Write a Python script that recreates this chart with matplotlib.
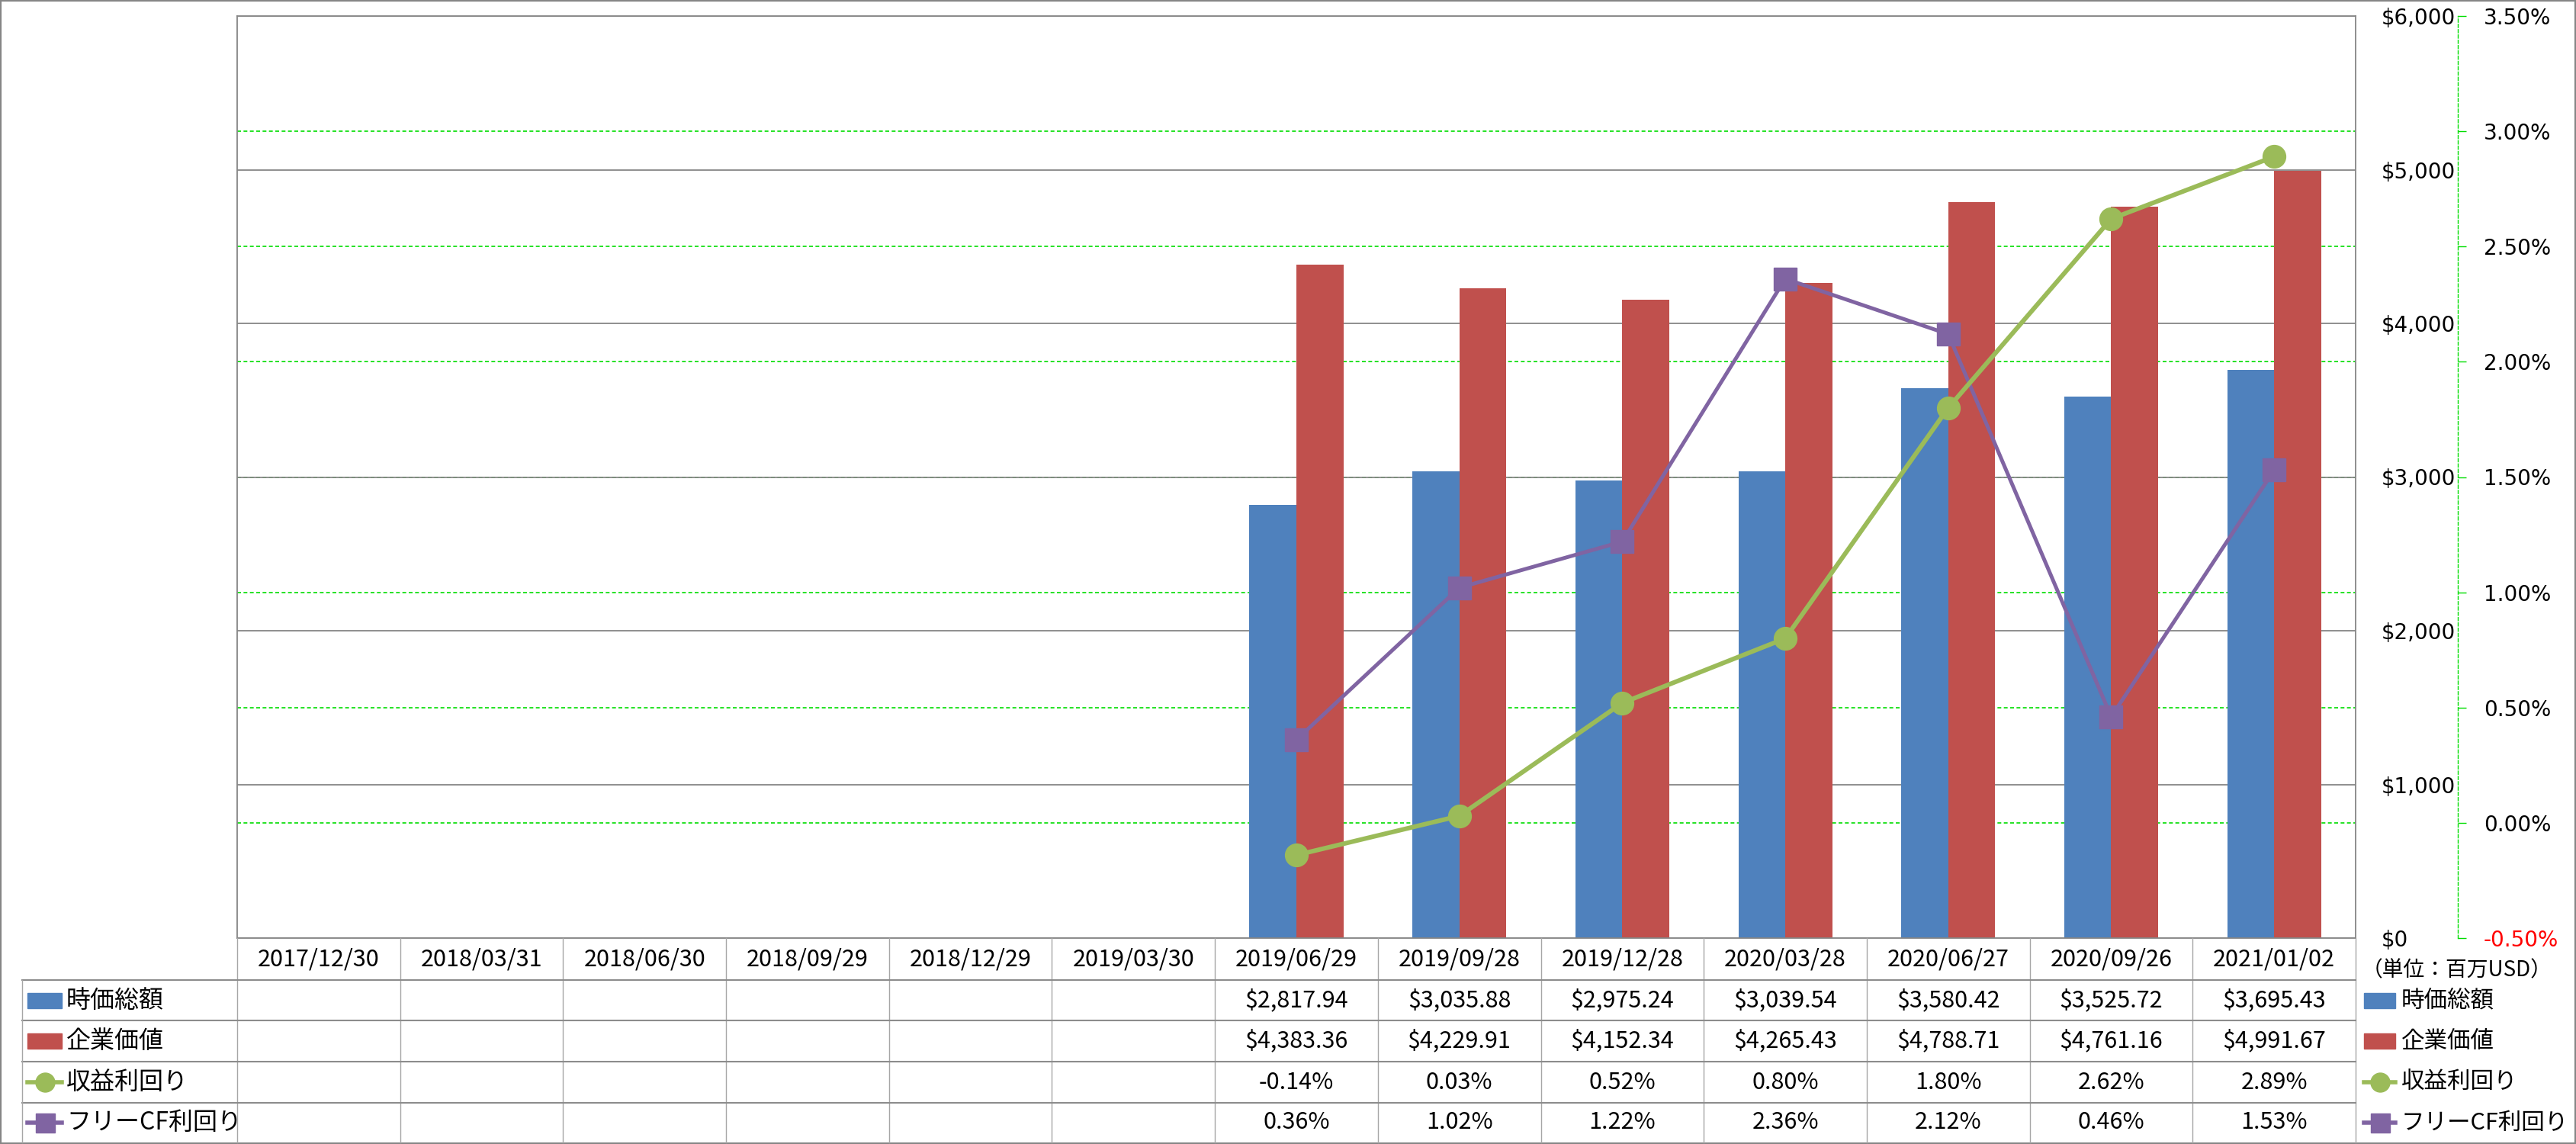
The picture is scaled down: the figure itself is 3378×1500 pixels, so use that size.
import numpy as np
import matplotlib
matplotlib.use('Agg')
import matplotlib.pyplot as plt
from matplotlib.transforms import blended_transform_factory
from matplotlib.lines import Line2D
from matplotlib.patches import Rectangle

plt.rcParams['font.family'] = ['Noto Sans CJK JP', 'DejaVu Sans']

# data (単位: 百万USD, %)
dates = ['2017/12/30', '2018/03/31', '2018/06/30', '2018/09/29', '2018/12/29',
         '2019/03/30', '2019/06/29', '2019/09/28', '2019/12/28', '2020/03/28',
         '2020/06/27', '2020/09/26', '2021/01/02']
market_cap = [np.nan, np.nan, np.nan, np.nan, np.nan, np.nan,
              2817.94, 3035.88, 2975.24, 3039.54, 3580.42, 3525.72, 3695.43]
ent_value = [np.nan, np.nan, np.nan, np.nan, np.nan, np.nan,
             4383.36, 4229.91, 4152.34, 4265.43, 4788.71, 4761.16, 4991.67]
earn_yield = [np.nan, np.nan, np.nan, np.nan, np.nan, np.nan,
              -0.14, 0.03, 0.52, 0.80, 1.80, 2.62, 2.89]
fcf_yield = [np.nan, np.nan, np.nan, np.nan, np.nan, np.nan,
             0.36, 1.02, 1.22, 2.36, 2.12, 0.46, 1.53]
names = ['時価総額', '企業価値', '収益利回り', 'フリーCF利回り']
usd_ticks = [0, 1000, 2000, 3000, 4000, 5000, 6000]
pct_ticks = [-0.5, 0.0, 0.5, 1.0, 1.5, 2.0, 2.5, 3.0, 3.5]

blue, red, green, purple = '#4F81BD', '#C0504D', '#9BBB59', '#8064A2'
gray = '#868686'
lime = '#00DD00'

W, H = 3378, 1500
PT = 72 / 100  # points per pixel at dpi 100
fig = plt.figure(figsize=(W / 100, H / 100), dpi=100)


def fx(px):
    return px / W


def fy(px):
    return 1 - px / H


# main plot area
ax = fig.add_axes([fx(311), fy(1230), fx(3089) - fx(311), fy(21) - fy(1230)])
x = np.arange(len(dates))
bw = 0.288
ax.bar(x - bw / 2, market_cap, bw, color=blue, zorder=2)
ax.bar(x + bw / 2, ent_value, bw, color=red, zorder=2)
ax.set_xlim(-0.5, len(dates) - 0.5)
ax.set_ylim(0, 6000)
ax.set_yticks(usd_ticks, [f'${v:,.0f}' for v in usd_ticks])
ax.yaxis.grid(True, color=gray, lw=1.3)
ax.set_axisbelow(True)
for s in ax.spines.values():
    s.set_color(gray)
    s.set_linewidth(1.3)

# secondary (percent) axis
ax2 = ax.twinx()
ax2.set_ylim(-0.5, 3.5)
ax2.set_yticks(pct_ticks, [f'{v:.2f}%' for v in pct_ticks])
for side in ['left', 'top', 'bottom']:
    ax2.spines[side].set_visible(False)
ax2.spines['right'].set_position(('outward', 134 * PT))
ax2.spines['right'].set_color(lime)
ax2.spines['right'].set_linewidth(1)
ax2.spines['right'].set_linestyle((0, (3, 2)))
ax2.tick_params(axis='y', direction='out', length=11 * PT, width=1,
                color=lime, pad=23 * PT, labelsize=20)
for lbl in ax2.get_yticklabels():
    lbl.set_fontfamily('DejaVu Sans')
ax2.get_yticklabels()[0].set_color('red')

# dollar labels also sit on the right (twinx moved them left)
ax.yaxis.tick_right()
ax.tick_params(axis='y', left=False, labelleft=False, right=True, labelright=True,
               length=0, pad=34 * PT, labelsize=20)
ax.tick_params(axis='x', bottom=False, labelbottom=False)
for lbl in ax.get_yticklabels():
    lbl.set_fontfamily('DejaVu Sans')

# green dashed gridlines behind the bars and the gray grid
gtrans = blended_transform_factory(ax.transAxes, ax2.transData)
for v in pct_ticks[1:-1]:
    ax.plot([0, 1], [v, v], transform=gtrans, color=lime, lw=1.2,
            ls=(0, (3, 2)), zorder=0.4)

ax2.plot(x, fcf_yield, color=purple, lw=3.6, marker='s', ms=21.5, zorder=3)
ax2.plot(x, earn_yield, color=green, lw=4.3, marker='o', ms=21.5, zorder=4)

# data table below the plot
tx = blended_transform_factory(ax.transData, fig.transFigure)
rows = [(1285, 1338), (1338, 1392), (1392, 1446), (1446, 1498)]
cell_gray = '#A6A6A6'
for i in range(len(dates) + 1):
    fig.add_artist(Line2D([i - 0.5, i - 0.5], [fy(1230), fy(1498)],
                          transform=tx, color=cell_gray, lw=1))
for top, bot in rows:
    fig.add_artist(Line2D([fx(29), fx(3089)], [fy(top), fy(top)],
                          transform=fig.transFigure, color='#8C8C8C', lw=1.5))
fig.add_artist(Line2D([fx(29), fx(29)], [fy(1285), fy(1498)],
                      transform=fig.transFigure, color=cell_gray, lw=1))

for i, d in enumerate(dates):
    fig.text(i, fy(1258), d, transform=tx, ha='center', va='center', fontsize=22)

table_vals = [
    [f'${v:,.2f}' if not np.isnan(v) else '' for v in market_cap],
    [f'${v:,.2f}' if not np.isnan(v) else '' for v in ent_value],
    [f'{v:.2f}%' if not np.isnan(v) else '' for v in earn_yield],
    [f'{v:.2f}%' if not np.isnan(v) else '' for v in fcf_yield],
]
for r, vals in enumerate(table_vals):
    yc = fy((rows[r][0] + rows[r][1]) / 2)
    for i, s in enumerate(vals):
        if s:
            fig.text(i, yc, s, transform=tx, ha='center', va='center', fontsize=22)


# legend keys, left column and right side
def legend_key(x0, x1, yc, r):
    if r < 2:
        col = [blue, red][r]
        fig.add_artist(Rectangle((fx(x0), yc - 10 / H), fx(x1) - fx(x0), 20 / H,
                                 transform=fig.transFigure, color=col))
    else:
        col = [green, purple][r - 2]
        mk = ['o', 's'][r - 2]
        fig.add_artist(Line2D([fx(x0), fx((x0 + x1) / 2), fx(x1)], [yc] * 3,
                              transform=fig.transFigure, color=col, lw=4,
                              marker=mk, ms=18, markevery=[1]))


for r, name in enumerate(names):
    yc = fy((rows[r][0] + rows[r][1]) / 2)
    legend_key(36, 81, yc, r)
    fig.text(fx(87), yc, name, ha='left', va='center', fontsize=23)
    legend_key(3100, 3141, yc, r)
    fig.text(fx(3149), yc, name, ha='left', va='center', fontsize=22)

fig.text(fx(3222), fy(1272), '（単位：百万USD）', ha='center', va='center', fontsize=20)

# outer chart border
fig.add_artist(Rectangle((0, 0), 1, 1, transform=fig.transFigure, fill=False,
                         edgecolor=gray, lw=3))

fig.savefig('out.png', dpi=100)
